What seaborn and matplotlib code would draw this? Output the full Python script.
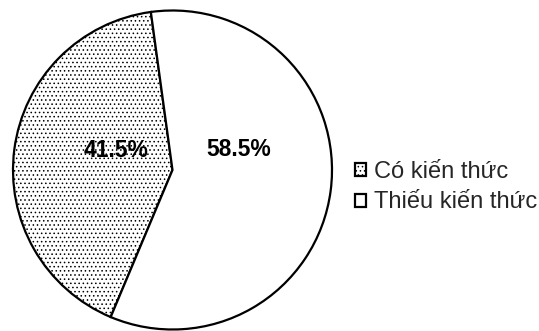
import matplotlib
matplotlib.use("Agg")
import matplotlib.pyplot as plt
import seaborn as sns

categories = ["Có kiến thức", "Thiếu kiến thức"]
values = [41.5, 58.5]
value_labels = ["41.5%", "58.5%"]

sns.set_theme(style="white")
plt.rcParams["font.family"] = ["Liberation Sans", "DejaVu Sans"]
plt.rcParams["hatch.linewidth"] = 0.6

W, H = 539, 331
fig = plt.figure(figsize=(W / 100, H / 100), dpi=100)
fig.patch.set_facecolor("white")

cx, cy, r = 172.5, 170.0, 159.5
ax = fig.add_axes([(cx - r) / W, (H - cy - r) / H, 2 * r / W, 2 * r / H])

wedges, _ = ax.pie(
    values,
    startangle=97.8,
    counterclock=True,
    colors=["white", "white"],
    wedgeprops=dict(edgecolor="black", linewidth=1.6),
)
wedges[0].set_hatch("....")

ax.set_xlim(-1, 1)
ax.set_ylim(-1, 1)
ax.set_aspect("equal")
ax.axis("off")

label_pos = [(-0.354, 0.125), (0.414, 0.129)]
for (x, y), txt in zip(label_pos, value_labels):
    ax.text(x, y, txt, ha="center", va="center", fontsize=16.5,
            fontweight="bold", color="black")

leg = fig.legend(
    wedges, categories,
    loc="center left",
    bbox_to_anchor=(355 / W, (H - 187) / H),
    frameon=False,
    fontsize=17,
    handlelength=0.48,
    handleheight=0.48,
    handletextpad=0.32,
    labelspacing=0.38,
    borderpad=0,
    borderaxespad=0,
)

fig.savefig("out.png", dpi=100)
